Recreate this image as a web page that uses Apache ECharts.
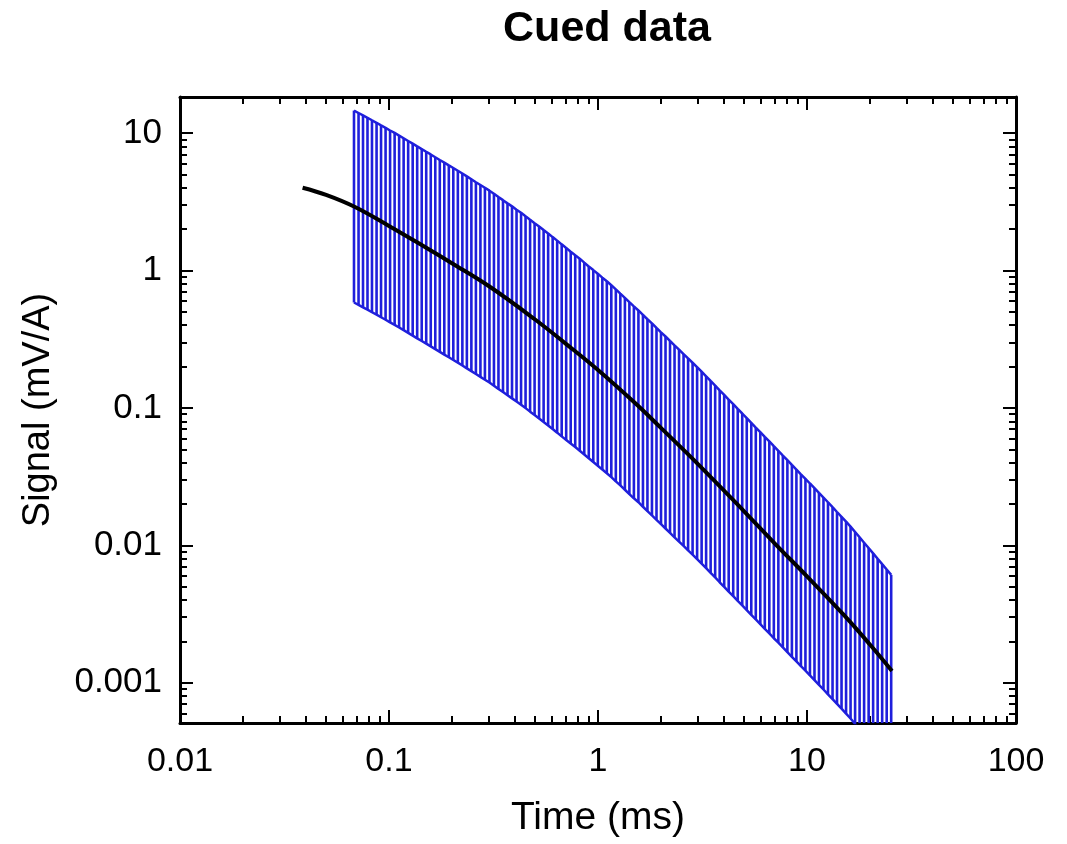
<!DOCTYPE html>
<html><head><meta charset="utf-8">
<script src="https://cdn.jsdelivr.net/npm/echarts@6/dist/echarts.min.js"></script>
<style>html,body{margin:0;padding:0;background:#fff}#chart{width:1067px;height:844px}</style>
</head><body><div id="chart"></div>
<script>
const titleText = 'Cued data';
const xName = 'Time (ms)';
const yName = 'Signal (mV/A)';

const xTickValues = [0.01, 0.1, 1, 10, 100];
const xTickLabels = ['0.01', '0.1', '1', '10', '100'];
const yTickValues = [0.001, 0.01, 0.1, 1, 10];
const yTickLabels = ['0.001', '0.01', '0.1', '1', '10'];
const xMinorTicks = [0.02,0.03,0.04,0.05,0.06,0.07,0.08,0.09,
  0.2,0.3,0.4,0.5,0.6,0.7,0.8,0.9, 2,3,4,5,6,7,8,9, 20,30,40,50,60,70,80,90];
const yMinorTicks = [0.0006,0.0007,0.0008,0.0009,
  0.002,0.003,0.004,0.005,0.006,0.007,0.008,0.009,
  0.02,0.03,0.04,0.05,0.06,0.07,0.08,0.09,
  0.2,0.3,0.4,0.5,0.6,0.7,0.8,0.9, 2,3,4,5,6,7,8,9];

// smooth model curve (black)
const modelTime = [0.0386,0.05,0.068,0.1,0.15,0.2,0.3,0.5,0.7,1,1.5,2,3,5,7,10,15,20,25.5];
const modelSignal = [4.0,3.55,2.92,2.11,1.47,1.13,0.771,0.440,0.294,0.189,0.109,0.0716,0.0392,0.0177,0.01035,0.00595,0.00312,0.00190,0.00122];

// gate times and error bar bounds (blue)
const gateTime = [0.0680,0.0715,0.0751,0.0789,0.0829,0.0872,0.0916,0.0963,0.1012,0.1064,
  0.1118,0.1175,0.1235,0.1298,0.1364,0.1434,0.1507,0.1584,0.1665,0.1750,
  0.1839,0.1933,0.2031,0.2135,0.2244,0.2358,0.2478,0.2605,0.2738,0.2877,
  0.3024,0.3178,0.3340,0.3511,0.3690,0.3878,0.4076,0.4284,0.4502,0.4732,
  0.4973,0.5227,0.5493,0.5773,0.6068,0.6377,0.6702,0.7044,0.7403,0.7781,
  0.8178,0.8595,0.9033,0.9494,0.9978,1.049,1.102,1.158,1.217,1.279,
  1.345,1.413,1.485,1.561,1.641,1.724,1.812,1.905,2.002,2.104,
  2.211,2.324,2.442,2.567,2.698,2.835,2.980,3.132,3.291,3.459,
  3.636,3.821,4.016,4.220,4.436,4.662,4.899,5.149,5.412,5.688,
  5.978,6.282,6.603,6.939,7.293,7.665,8.056,8.467,8.898,9.352,
  9.829,10.33,10.86,11.41,11.99,12.60,13.25,13.92,14.63,15.38,
  16.16,16.99,17.85,18.76,19.72,20.72,21.78,22.89,24.06,25.28];
const gateUpper = [14.58,14.00,13.45,12.92,12.39,11.88,11.38,10.91,10.44,10.02,
  9.59,9.17,8.76,8.37,8.00,7.65,7.31,6.99,6.67,6.37,
  6.09,5.82,5.57,5.32,5.08,4.84,4.61,4.39,4.19,4.00,
  3.81,3.62,3.42,3.25,3.08,2.93,2.77,2.63,2.48,2.34,
  2.21,2.09,1.97,1.86,1.75,1.65,1.55,1.46,1.37,1.29,
  1.22,1.14,1.07,1.007,0.946,0.888,0.835,0.782,0.729,0.679,
  0.632,0.589,0.549,0.512,0.476,0.442,0.412,0.382,0.355,0.331,
  0.307,0.285,0.2655,0.2466,0.2291,0.2132,0.1980,0.1837,0.1700,0.1572,
  0.1455,0.1343,0.1243,0.1149,0.1064,0.0983,0.0911,0.0842,0.0778,0.0719,
  0.0666,0.0615,0.0570,0.0527,0.0488,0.0450,0.0417,0.0385,0.0356,0.0329,
  0.0305,0.0282,0.0261,0.0241,0.0223,0.0206,0.01896,0.01749,0.01614,0.01487,
  0.01370,0.01252,0.01145,0.01046,0.00957,0.00875,0.00799,0.00730,0.00668,0.00610];
const gateLower = [0.585,0.562,0.540,0.519,0.497,0.477,0.457,0.438,0.419,0.402,
  0.385,0.368,0.352,0.336,0.321,0.307,0.2935,0.2805,0.2677,0.2559,
  0.2445,0.2337,0.2233,0.2135,0.2037,0.1941,0.1852,0.1764,0.1683,0.1604,
  0.1530,0.1452,0.1374,0.1305,0.1237,0.1174,0.1113,0.1055,0.0997,0.0940,
  0.0888,0.0837,0.0791,0.0746,0.0702,0.0661,0.0621,0.0585,0.0551,0.0519,
  0.0488,0.0459,0.0431,0.0404,0.0380,0.0356,0.0335,0.0314,0.0292,0.0273,
  0.0254,0.0236,0.0220,0.0206,0.0191,0.01776,0.01652,0.01535,0.01426,0.01327,
  0.01233,0.01145,0.01066,0.00990,0.00920,0.00856,0.00795,0.00737,0.00683,0.00631,
  0.00584,0.00539,0.00499,0.00461,0.00427,0.00395,0.00366,0.00338,0.00312,0.00289,
  0.00267,0.00247,0.00229,0.00211,0.00196,0.00181,0.00167,0.001545,0.001430,0.001322,
  0.001225,0.001132,0.001046,0.000967,0.000894,0.000825,0.000761,0.000702,0.000648,0.000597,
  0.000550,0.000502,0.000460,0.000420,0.000384,0.000351,0.000321,0.000293,0.000268,0.000245];

const FONT = '"Liberation Sans", Arial, Helvetica, sans-serif';
const BLUE = '#1f1fdc';

function fmt(vals, labels) {
  return function (v) {
    for (let i = 0; i < vals.length; i++) {
      if (Math.abs(Math.log10(v) - Math.log10(vals[i])) < 1e-6) return labels[i];
    }
    return '';
  };
}

const X_MIN = 0.01, X_MAX = 100, Y_MIN = 0.00051, Y_MAX = 18.3;

function xAx(pos, major, withLabels) {
  return {
    type: 'log', logBase: 10, min: X_MIN, max: X_MAX, position: pos,
    axisLine: { show: major, onZero: false, lineStyle: { color: '#000', width: 3 } },
    axisTick: { show: true, inside: true, length: major ? 13 : 7,
      customValues: major ? xTickValues : xMinorTicks,
      lineStyle: { color: '#000', width: 2 } },
    axisLabel: withLabels ? { show: true, customValues: xTickValues, formatter: fmt(xTickValues, xTickLabels),
      color: '#000', fontSize: 34, fontFamily: FONT, margin: 22 } : { show: false },
    splitLine: { show: false }, minorTick: { show: false },
    name: withLabels ? xName : '', nameLocation: 'middle', nameGap: 76,
    nameTextStyle: { color: '#000', fontSize: 39, fontFamily: FONT }
  };
}
function yAx(pos, major, withLabels) {
  return {
    type: 'log', logBase: 10, min: Y_MIN, max: Y_MAX, position: pos,
    axisLine: { show: major, onZero: false, lineStyle: { color: '#000', width: 3 } },
    axisTick: { show: true, inside: true, length: major ? 13 : 7,
      customValues: major ? yTickValues : yMinorTicks,
      lineStyle: { color: '#000', width: 2 } },
    axisLabel: withLabels ? { show: true, customValues: yTickValues, formatter: fmt(yTickValues, yTickLabels),
      color: '#000', fontSize: 35, fontFamily: FONT, margin: 18 } : { show: false },
    splitLine: { show: false }, minorTick: { show: false },
    name: withLabels ? yName : '', nameLocation: 'middle', nameGap: 122, nameRotate: 90,
    nameTextStyle: { color: '#000', fontSize: 38, fontFamily: FONT }
  };
}

const chart = echarts.init(document.getElementById('chart'), null, { renderer: 'canvas' });
chart.setOption({
  backgroundColor: '#fff',
  animation: false,
  title: {
    text: titleText, left: 602, top: 3, textAlign: 'center',
    textStyle: { color: '#000', fontSize: 43, fontWeight: 'bold', fontFamily: FONT }
  },
  grid: { left: 180, top: 97, right: 51, bottom: 121, outerBoundsMode: 'none', containLabel: false },
  xAxis: [xAx('bottom', true, true), xAx('bottom', false, false), xAx('top', true, false), xAx('top', false, false)],
  yAxis: [yAx('left', true, true), yAx('left', false, false), yAx('right', true, false), yAx('right', false, false)],
  series: [
    {
      type: 'custom', name: 'error', xAxisIndex: 0, yAxisIndex: 0, clip: true, z: 2,
      data: gateTime.map((t, i) => [t, gateLower[i], gateUpper[i]]),
      encode: { x: 0, y: [1, 2] },
      renderItem: function (params, api) {
        const p1 = api.coord([api.value(0), api.value(1)]);
        const p2 = api.coord([api.value(0), api.value(2)]);
        return { type: 'line', shape: { x1: p1[0], y1: p1[1], x2: p2[0], y2: p2[1] },
          style: { stroke: BLUE, lineWidth: 2.6 } };
      }
    },
    {
      type: 'line', name: 'upper', xAxisIndex: 0, yAxisIndex: 0, z: 3,
      data: gateTime.map((t, i) => [t, gateUpper[i]]),
      symbol: 'none', lineStyle: { color: BLUE, width: 2.5 }
    },
    {
      type: 'line', name: 'lower', xAxisIndex: 0, yAxisIndex: 0, z: 3,
      data: gateTime.map((t, i) => [t, gateLower[i]]),
      symbol: 'none', lineStyle: { color: BLUE, width: 2.5 }
    },
    {
      type: 'line', name: 'model', xAxisIndex: 0, yAxisIndex: 0, z: 4, smooth: 0.4,
      data: modelTime.map((t, i) => [t, modelSignal[i]]),
      symbol: 'none', lineStyle: { color: '#000', width: 4 }
    }
  ]
});
</script>
</body></html>
